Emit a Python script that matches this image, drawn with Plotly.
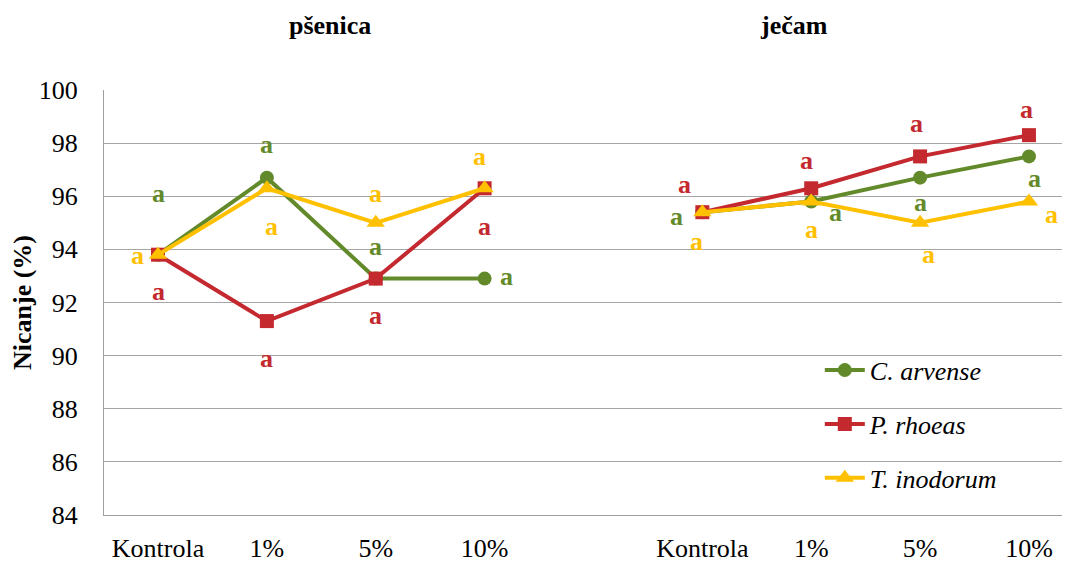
import plotly.graph_objects as go

# ---- data ----
categories = ["Kontrola", "1%", "5%", "10%", "", "Kontrola", "1%", "5%", "10%"]
crop_titles = ["pšenica", "ječam"]
series_names = ["C. arvense", "P. rhoeas", "T. inodorum"]

c_arvense = [93.8, 96.7, 92.9, 92.9, None, 95.4, 95.8, 96.7, 97.5]
p_rhoeas = [93.8, 91.3, 92.9, 96.3, None, 95.4, 96.3, 97.5, 98.3]
t_inodorum = [93.8, 96.3, 95.0, 96.3, None, 95.4, 95.8, 95.0, 95.8]

c_arvense_letters = ["a", "a", "a", "a", None, "a", "a", "a", "a"]
p_rhoeas_letters = ["a", "a", "a", "a", None, "a", "a", "a", "a"]
t_inodorum_letters = ["a", "a", "a", "a", None, "a", "a", "a", "a"]

yticks = [84, 86, 88, 90, 92, 94, 96, 98, 100]

# ---- styling ----
GREEN = "#638A2A"
RED = "#C3292E"
YELLOW = "#FFC000"
FONT = "Tinos, Liberation Serif, Times New Roman, serif"

# label offsets (xshift, yshift) in pixels per point
green_off = [(0, 61), (0, 33), (0, 32), (22, 2), None, (-26, -4), (24, -11), (0, -25), (6, -22)]
red_off = [(0, -37), (0, -37), (0, -37), (0, -38), None, (-18, 28), (-5, 28), (-4, 33), (-2, 26)]
yellow_off = [(-21, -1), (5, -38), (0, 29), (-5, 32), None, (-6, -29), (0, -28), (8, -32), (23, -13)]

x = list(range(len(categories)))

fig = go.Figure()
specs = [
    (series_names[0], c_arvense, GREEN, "circle", 14, c_arvense_letters, green_off),
    (series_names[1], p_rhoeas, RED, "square", 14, p_rhoeas_letters, red_off),
    (series_names[2], t_inodorum, YELLOW, "triangle-up", 16, t_inodorum_letters, yellow_off),
]
for i, (name, vals, col, sym, ms, letters, offs) in enumerate(specs):
    fig.add_trace(go.Scatter(
        x=x, y=vals, mode="lines+markers", name=name,
        line=dict(color=col, width=4), connectgaps=False,
        marker=dict(symbol=sym, size=ms, color=col),
        legendgroup=f"g{i}",
    ))
    for xi, (v, lt, off) in enumerate(zip(vals, letters, offs)):
        if v is None or lt is None:
            continue
        fig.add_annotation(
            x=xi, y=v, xref="x", yref="y", text=lt, showarrow=False,
            xshift=off[0], yshift=off[1],
            font=dict(family=FONT, size=26, color=col, weight="bold"),
        )

# crop titles
for xc, t in zip([1.58, 5.84], crop_titles):
    fig.add_annotation(
        x=xc, y=1.19, xref="x", yref="paper", text=t, showarrow=False,
        font=dict(family=FONT, size=26, color="black", weight="bold"),
    )

fig.update_layout(
    width=1062, height=554,
    margin=dict(l=96, r=0, t=82, b=47),
    paper_bgcolor="white", plot_bgcolor="white",
    font=dict(family=FONT, size=26, color="black"),
    showlegend=True,
    legend=dict(
        x=0.741, y=0.396, xanchor="left", yanchor="top",
        font=dict(family=FONT, size=26, color="black", style="italic"),
        bgcolor="rgba(0,0,0,0)", tracegroupgap=17, itemwidth=40,
    ),
    xaxis=dict(
        range=[-0.496, 8.377], tickmode="array", tickvals=x, ticktext=categories,
        showgrid=False, zeroline=False, showline=True, linecolor="#A0A0A0", linewidth=1,
        ticks="outside", ticklen=10, tickcolor="white",
        tickfont=dict(family=FONT, size=26, color="black"),
    ),
    yaxis=dict(
        range=[84, 100], tickvals=yticks, showgrid=True, gridcolor="#A6A6A6", gridwidth=1.3,
        zeroline=False, showline=True, linecolor="#A0A0A0", linewidth=1,
        ticks="outside", ticklen=20, tickcolor="white",
        tickfont=dict(family=FONT, size=26, color="black"),
        title=dict(text="Nicanje (%)", standoff=2,
                   font=dict(family=FONT, size=26, color="black", weight="bold")),
    ),
)

fig.write_html("out.html")
